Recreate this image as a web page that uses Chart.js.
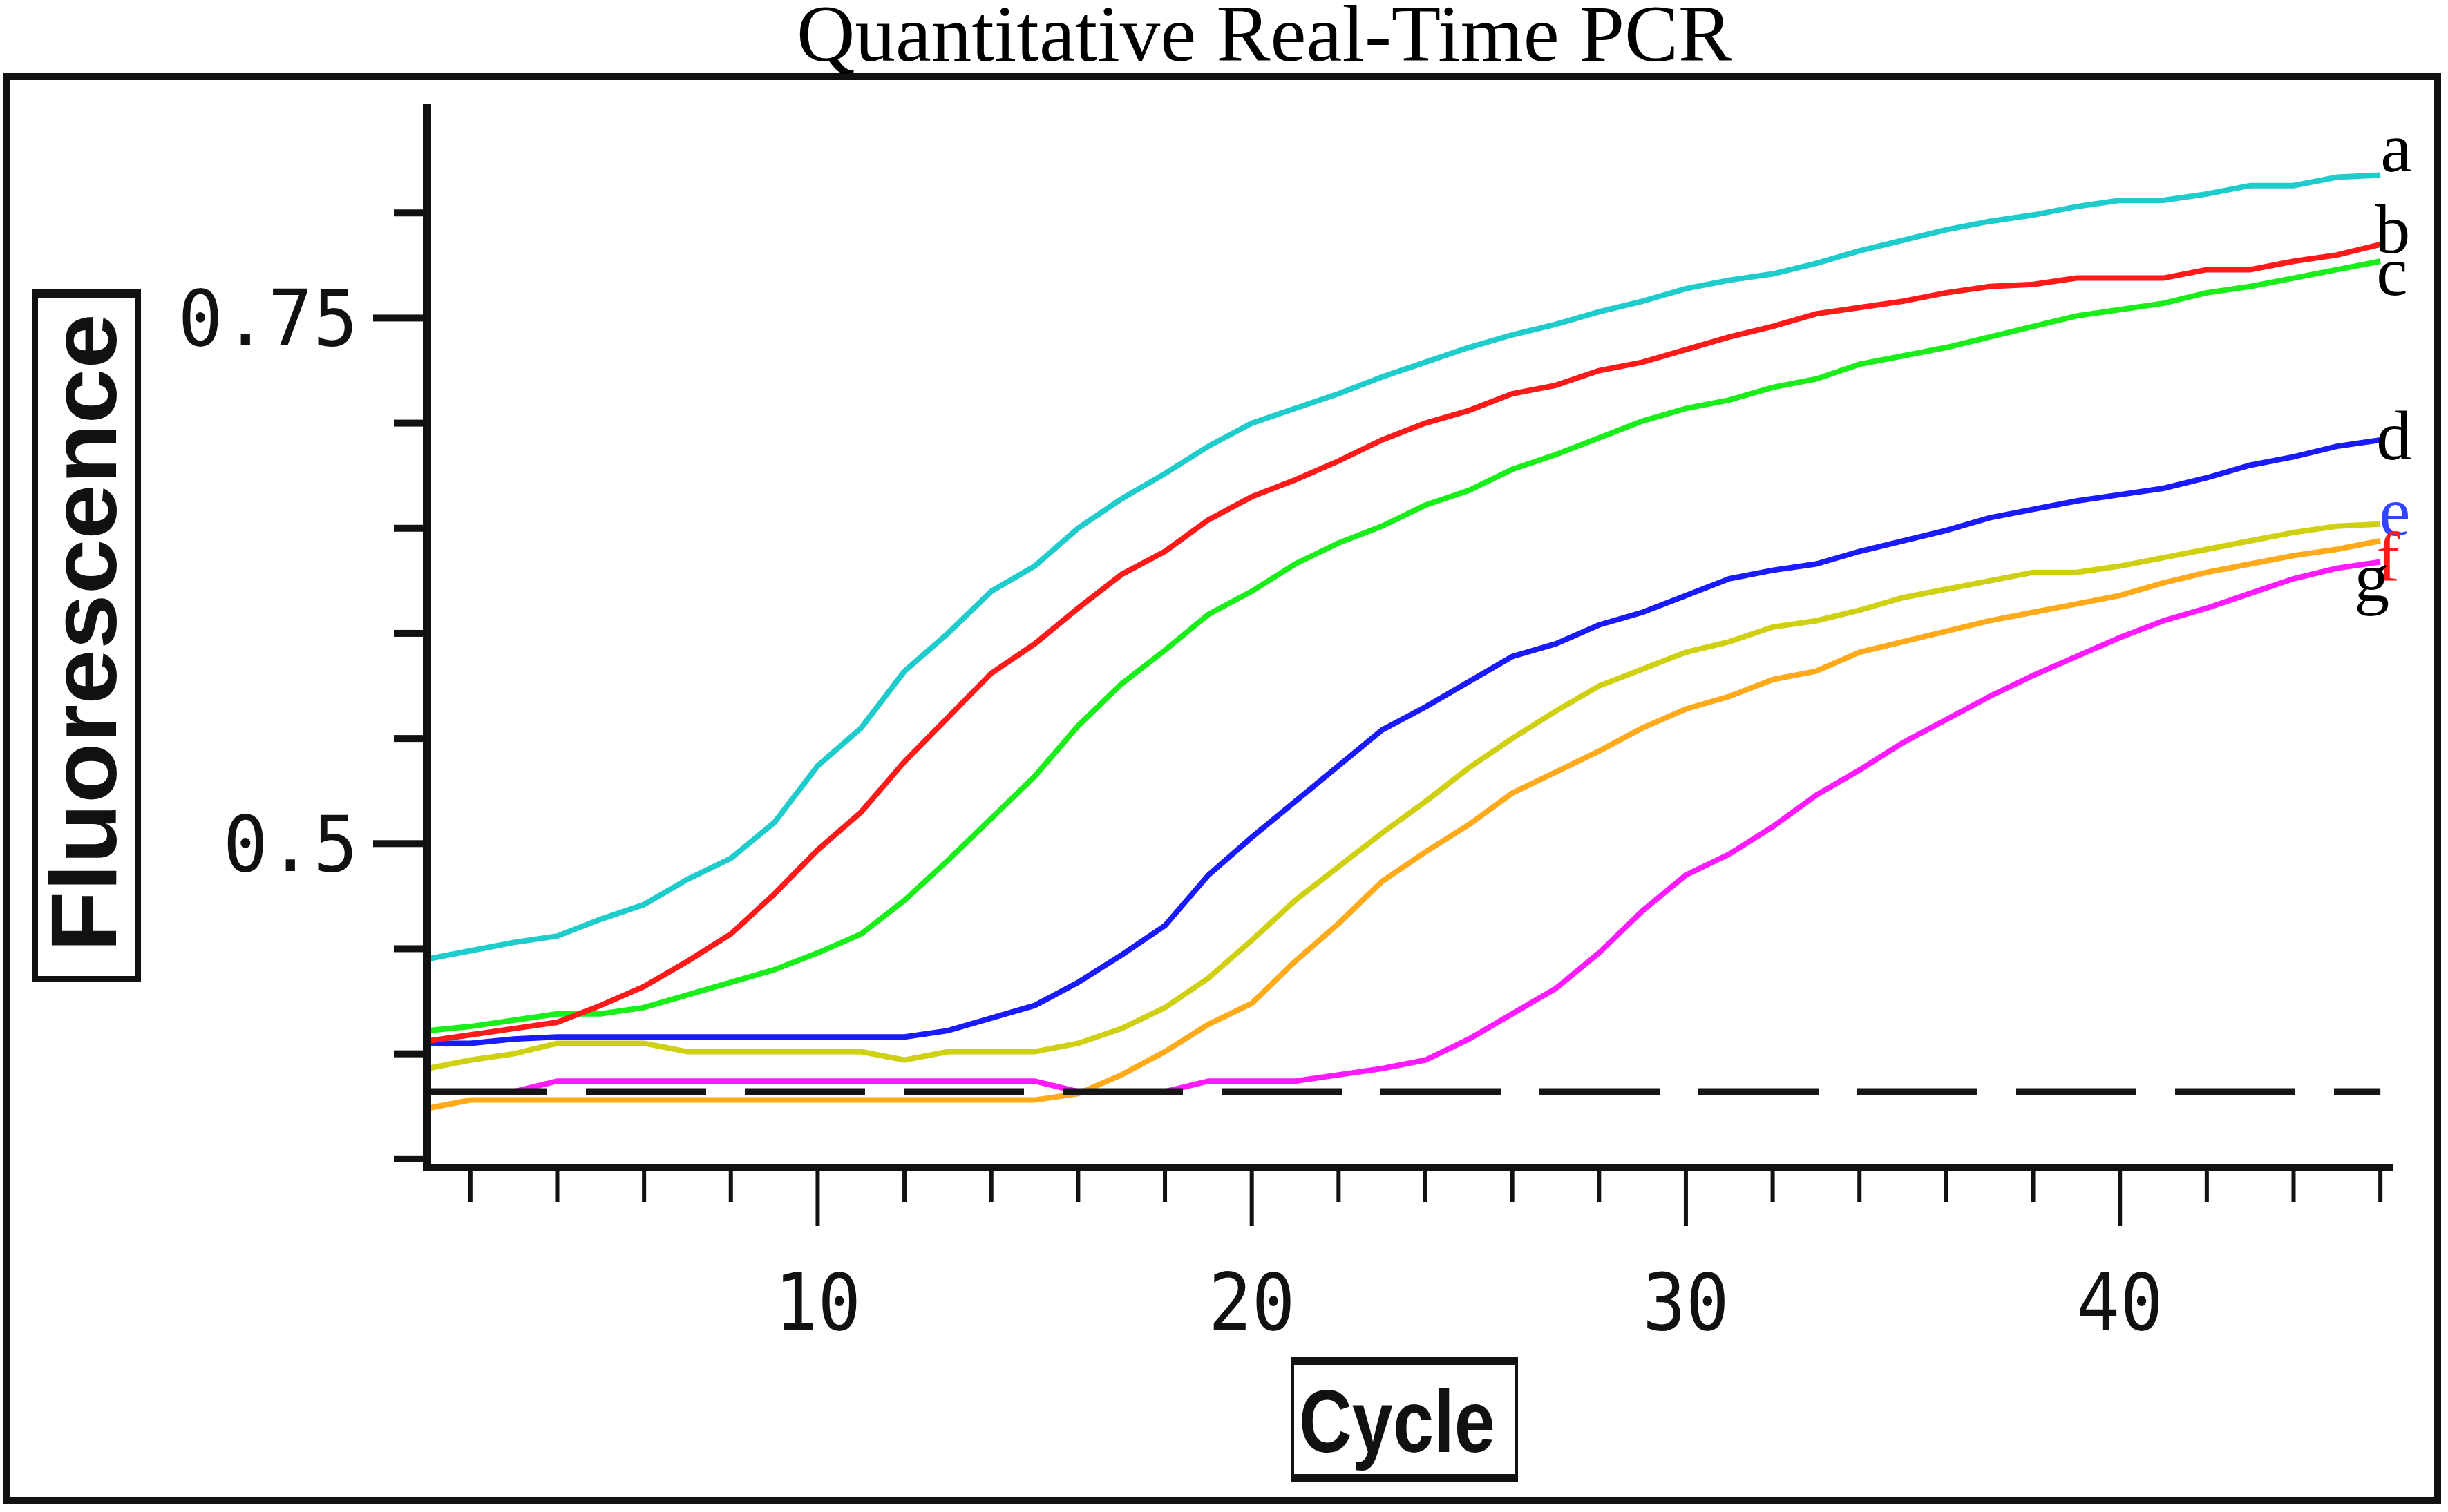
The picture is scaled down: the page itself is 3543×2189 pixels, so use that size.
<!DOCTYPE html>
<html>
<head>
<meta charset="utf-8">
<title>Quantitative Real-Time PCR</title>
<script src="https://cdn.jsdelivr.net/npm/chart.js@4.4.0/dist/chart.umd.min.js"></script>
<style>
  html, body { margin: 0; padding: 0; background: #fff; }
  #wrap { width: 3543px; height: 2189px; }
</style>
</head>
<body>
<div id="wrap"><canvas id="pcr" width="3543" height="2189"></canvas></div>
<script>
// PCR cycles
const cycles = [1, 2, 3, 4, 5, 6, 7, 8, 9, 10, 11, 12, 13, 14, 15, 16, 17, 18, 19, 20, 21, 22, 23,
  24, 25, 26, 27, 28, 29, 30, 31, 32, 33, 34, 35, 36, 37, 38, 39, 40, 41, 42, 43, 44, 45, 46];

// fluorescence read per cycle, one array per sample
const curveA = [0.445, 0.449, 0.453, 0.456, 0.464, 0.471, 0.483, 0.493, 0.510, 0.537,
  0.555, 0.582, 0.600, 0.620, 0.632, 0.650, 0.664, 0.676, 0.689, 0.700,
  0.707, 0.714, 0.722, 0.729, 0.736, 0.742, 0.747, 0.753, 0.758, 0.764,
  0.768, 0.771, 0.776, 0.782, 0.787, 0.792, 0.796, 0.799, 0.803, 0.806,
  0.806, 0.809, 0.813, 0.813, 0.817, 0.818];
const curveB = [0.406, 0.409, 0.412, 0.415, 0.423, 0.432, 0.444, 0.457, 0.476, 0.497,
  0.515, 0.539, 0.560, 0.581, 0.595, 0.612, 0.628, 0.639, 0.654, 0.665,
  0.673, 0.682, 0.692, 0.700, 0.706, 0.714, 0.718, 0.725, 0.729, 0.735,
  0.741, 0.746, 0.752, 0.755, 0.758, 0.762, 0.765, 0.766, 0.769, 0.769,
  0.769, 0.773, 0.773, 0.777, 0.780, 0.785];
const curveC = [0.411, 0.413, 0.416, 0.419, 0.419, 0.422, 0.428, 0.434, 0.440, 0.448,
  0.457, 0.473, 0.492, 0.512, 0.532, 0.556, 0.576, 0.592, 0.609, 0.620,
  0.633, 0.643, 0.651, 0.661, 0.668, 0.678, 0.685, 0.693, 0.701, 0.707,
  0.711, 0.717, 0.721, 0.728, 0.732, 0.736, 0.741, 0.746, 0.751, 0.754,
  0.757, 0.762, 0.765, 0.769, 0.773, 0.777];
const curveD = [0.405, 0.405, 0.407, 0.408, 0.408, 0.408, 0.408, 0.408, 0.408, 0.408,
  0.408, 0.408, 0.411, 0.417, 0.423, 0.434, 0.447, 0.461, 0.485, 0.503,
  0.520, 0.537, 0.554, 0.565, 0.577, 0.589, 0.595, 0.604, 0.610, 0.618,
  0.626, 0.630, 0.633, 0.639, 0.644, 0.649, 0.655, 0.659, 0.663, 0.666,
  0.669, 0.674, 0.680, 0.684, 0.689, 0.692];
const curveE = [0.393, 0.397, 0.400, 0.405, 0.405, 0.405, 0.401, 0.401, 0.401, 0.401,
  0.401, 0.397, 0.401, 0.401, 0.401, 0.405, 0.412, 0.422, 0.436, 0.454,
  0.473, 0.489, 0.505, 0.520, 0.536, 0.550, 0.563, 0.575, 0.583, 0.591,
  0.596, 0.603, 0.606, 0.611, 0.617, 0.621, 0.625, 0.629, 0.629, 0.632,
  0.636, 0.640, 0.644, 0.648, 0.651, 0.652];
const curveF = [0.374, 0.378, 0.378, 0.378, 0.378, 0.378, 0.378, 0.378, 0.378, 0.378,
  0.378, 0.378, 0.378, 0.378, 0.378, 0.381, 0.390, 0.401, 0.414, 0.424,
  0.444, 0.462, 0.482, 0.496, 0.509, 0.524, 0.534, 0.544, 0.555, 0.564,
  0.570, 0.578, 0.582, 0.591, 0.596, 0.601, 0.606, 0.610, 0.614, 0.618,
  0.624, 0.629, 0.633, 0.637, 0.640, 0.644];
const curveG = [0.382, 0.382, 0.382, 0.387, 0.387, 0.387, 0.387, 0.387, 0.387, 0.387,
  0.387, 0.387, 0.387, 0.387, 0.387, 0.382, 0.382, 0.382, 0.387, 0.387,
  0.387, 0.390, 0.393, 0.397, 0.407, 0.419, 0.431, 0.448, 0.468, 0.485,
  0.495, 0.508, 0.523, 0.535, 0.548, 0.559, 0.570, 0.580, 0.589, 0.598,
  0.606, 0.612, 0.619, 0.626, 0.631, 0.634];

const curveNames = ['a', 'b', 'c', 'd', 'e', 'f', 'g'];
const thresholdLevel = 0.382;

// axis ticks
const xTickValues = [2, 4, 6, 8, 10, 12, 14, 16, 18, 20, 22, 24, 26, 28, 30, 32, 34, 36, 38, 40, 42, 44, 46];
const xTickLabels = [10, 20, 30, 40];
const yTickValues = [0.35, 0.4, 0.45, 0.5, 0.55, 0.6, 0.65, 0.7, 0.75, 0.8];
const yTickLabels = ['0.5', '0.75'];

const curves = [curveA, curveB, curveC, curveD, curveE, curveF, curveG];
// line colour, label colour, label offset from the last point
const looks = [
  { line: '#1fcccc', text: '#000', dx: 0, dy: -5 },
  { line: '#ff1a1a', text: '#000', dx: -8, dy: 12 },
  { line: '#1aee1a', text: '#000', dx: -6, dy: 49 },
  { line: '#1a1aff', text: '#000', dx: -6, dy: 28 },
  { line: '#d0d012', text: '#3344ff', dx: -2, dy: 16 },
  { line: '#ffaa1a', text: '#ff1a1a', dx: -6, dy: 58 },
  { line: '#ff1aff', text: '#000', dx: -38, dy: 57 }
];

const datasets = [{
  label: 'threshold',
  data: [{ x: cycles[0], y: thresholdLevel }, { x: cycles[cycles.length - 1], y: thresholdLevel }],
  borderColor: '#161616',
  borderWidth: 10,
  borderDash: [174, 56],
  borderCapStyle: 'butt',
  pointRadius: 0
}];
curves.forEach((vals, i) => {
  datasets.push({
    label: curveNames[i],
    data: cycles.map((c, k) => ({ x: c, y: vals[k] })),
    borderColor: looks[i].line,
    borderWidth: 8,
    tension: 0,
    pointRadius: 0
  });
});

const samePos = (a, b) => Math.abs(a - b) < 1e-6;

const decor = {
  id: 'decor',
  afterDraw(chart) {
    const { ctx, chartArea: ca, scales: { x, y } } = chart;
    ctx.save();

    // outer frame
    ctx.strokeStyle = '#111';
    ctx.lineWidth = 10;
    ctx.strokeRect(10, 111, 3518, 2061);

    // title
    ctx.fillStyle = '#000';
    ctx.font = '117px "Liberation Serif", "Times New Roman", serif';
    ctx.textAlign = 'center';
    ctx.textBaseline = 'alphabetic';
    ctx.fillText('Quantitative Real-Time PCR', 1830, 88);

    // axis lines
    ctx.fillStyle = '#111';
    ctx.fillRect(ca.left - 6, ca.top, 12, ca.bottom - ca.top + 5);
    ctx.fillRect(ca.left - 6, ca.bottom - 5, ca.right - ca.left + 6, 10);

    // y ticks and labels (mono digits, a bit taller than normal)
    ctx.font = '104px "DejaVu Sans Mono", monospace';
    ctx.textAlign = 'right';
    y.ticks.forEach(t => {
      const py = y.getPixelForValue(t.value);
      const lab = yTickLabels.find(v => samePos(parseFloat(v), t.value));
      const len = lab ? 78 : 48;
      ctx.fillRect(ca.left - len, py - 5, len, 10);
      if (lab) {
        ctx.save();
        ctx.translate(ca.left - 100, py + 40);
        ctx.scale(1.04, 1.08);
        ctx.fillText(lab, 0, 0);
        ctx.restore();
      }
    });

    // x ticks and labels
    ctx.textAlign = 'center';
    x.ticks.forEach(t => {
      const px = x.getPixelForValue(t.value);
      const lab = xTickLabels.find(v => samePos(v, t.value));
      const len = lab !== undefined ? 85 : 50;
      ctx.fillRect(px - 3, ca.bottom, 6, len);
      if (lab !== undefined) {
        ctx.save();
        ctx.translate(px, ca.bottom + 235);
        ctx.scale(1.0, 1.1);
        ctx.fillText(String(lab), 0, 0);
        ctx.restore();
      }
    });

    // y axis title box
    ctx.lineWidth = 8;
    ctx.strokeRect(51, 422, 149, 995);
    ctx.fillRect(47, 418, 157, 13);
    ctx.save();
    ctx.font = 'bold 136px "Liberation Sans", Arial, sans-serif';
    ctx.textAlign = 'center';
    ctx.textBaseline = 'alphabetic';
    const fw = ctx.measureText('Fluorescence').width;
    ctx.translate(168, 916);
    ctx.rotate(-Math.PI / 2);
    ctx.scale(924 / fw, 1);
    ctx.fillText('Fluorescence', 0, 0);
    ctx.restore();

    // x axis title box
    ctx.lineWidth = 5;
    ctx.strokeRect(1870.5, 1967.5, 324, 176);
    ctx.fillRect(1868, 1965, 329, 11);
    ctx.fillRect(1868, 2134, 329, 12);
    ctx.save();
    ctx.font = 'bold 128px "Liberation Sans", Arial, sans-serif';
    ctx.textAlign = 'center';
    const cw = ctx.measureText('Cycle').width;
    ctx.translate(2022, 2102);
    ctx.scale(284 / cw, 1);
    ctx.fillText('Cycle', 0, 0);
    ctx.restore();

    // curve names at the right end
    ctx.font = '102px "Liberation Serif", "Times New Roman", serif';
    ctx.textAlign = 'left';
    ctx.textBaseline = 'alphabetic';
    const lastX = x.getPixelForValue(cycles[cycles.length - 1]);
    curves.forEach((vals, i) => {
      const py = y.getPixelForValue(vals[vals.length - 1]);
      ctx.fillStyle = looks[i].text;
      ctx.fillText(curveNames[i], lastX + looks[i].dx, py + looks[i].dy);
    });

    ctx.restore();
  }
};

new Chart(document.getElementById('pcr'), {
  type: 'line',
  data: { datasets },
  options: {
    responsive: false,
    devicePixelRatio: 1,
    animation: false,
    events: [],
    layout: { autoPadding: false, padding: { left: 610, right: 79, top: 150, bottom: 491 } },
    plugins: { legend: { display: false }, tooltip: { enabled: false }, title: { display: false } },
    scales: {
      x: {
        type: 'linear', min: 1, max: 46.3,
        afterBuildTicks: s => { s.ticks = xTickValues.map(v => ({ value: v })); },
        ticks: { display: false }, grid: { display: false }, border: { display: false }
      },
      y: {
        type: 'linear', min: 0.346, max: 0.852,
        afterBuildTicks: s => { s.ticks = yTickValues.map(v => ({ value: v })); },
        ticks: { display: false }, grid: { display: false }, border: { display: false }
      }
    }
  },
  plugins: [decor]
});
</script>
</body>
</html>
